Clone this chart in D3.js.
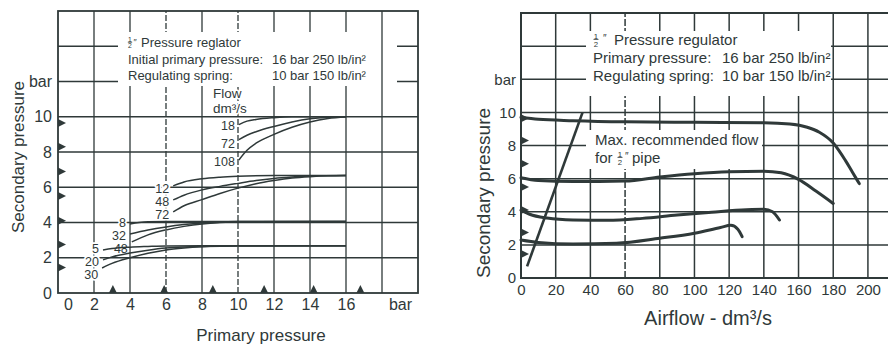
<!DOCTYPE html>
<html>
<head>
<meta charset="utf-8">
<script src="https://cdn.jsdelivr.net/npm/d3@7"></script>
<style>
  body { margin: 0; background: #fff; }
  svg text { font-family: "Liberation Sans", Arial, Helvetica, sans-serif; fill: #2f3939; }
</style>
</head>
<body>
<svg id="chart" width="888" height="345"></svg>
<script>
// ---------- Left chart: secondary pressure vs primary pressure ----------
const primaryTicks = [0, 2, 4, 6, 8, 10, 12, 14, 16];
const secondaryTicks = [0, 2, 4, 6, 8, 10];
// lb/in² reference marks (arrowheads) along both axes, in bar
const psiMarksSecondary = [1.45, 2.75, 4.1, 5.5, 6.9, 8.3, 9.65];
const psiMarksPrimary = [3.05, 5.9, 8.6, 11.45, 14.2, 16.8];

// [primary bar, secondary bar] — setting ~10 bar
const set10Flow18  = [[10.05, 9.55], [10.5, 9.75], [11, 9.85], [12, 9.95], [13, 10], [16, 10]];
const set10Flow72  = [[10.05, 8.7], [10.5, 8.95], [11, 9.15], [12, 9.45], [13, 9.7], [14, 9.88], [15, 9.97], [16, 10]];
const set10Flow108 = [[10.05, 7.55], [10.5, 8.1], [11, 8.5], [12, 9.0], [13, 9.4], [14, 9.7], [15, 9.9], [16, 10]];
// setting ~6.7 bar
const set6Flow12 = [[6.4, 6.08], [7, 6.3], [8, 6.48], [9, 6.57], [10, 6.62], [12, 6.66], [16, 6.67]];
const set6Flow48 = [[6.4, 5.28], [7, 5.55], [8, 5.85], [9, 6.05], [10, 6.22], [11, 6.38], [12, 6.5], [13, 6.58], [14, 6.64], [16, 6.67]];
const set6Flow72 = [[6.4, 4.6], [7, 4.95], [8, 5.3], [9, 5.65], [10, 5.95], [11, 6.2], [12, 6.38], [13, 6.52], [14, 6.6], [15, 6.65], [16, 6.67]];
// setting ~4 bar
const set4Flow8  = [[4, 3.92], [4.5, 4.0], [5, 4.04], [6, 4.05], [16, 4.05]];
const set4Flow32 = [[4, 3.35], [5, 3.58], [6, 3.75], [7, 3.88], [8, 3.97], [9, 4.02], [10, 4.05], [16, 4.05]];
const set4Flow48 = [[4.1, 2.9], [5, 3.3], [6, 3.58], [7, 3.78], [8, 3.92], [9, 4.0], [10, 4.04], [16, 4.05]];
// setting ~2.7 bar
const set2Flow5  = [[2.5, 2.44], [3, 2.52], [4, 2.6], [5, 2.64], [6, 2.67], [8, 2.68], [16, 2.68]];
const set2Flow20 = [[2.5, 1.88], [3, 2.05], [4, 2.27], [5, 2.43], [6, 2.55], [7, 2.61], [8, 2.64], [10, 2.67], [16, 2.68]];
const set2Flow30 = [[2.45, 1.42], [3, 1.68], [4, 2.0], [5, 2.25], [6, 2.44], [7, 2.55], [8, 2.62], [9, 2.66], [10, 2.68], [16, 2.68]];

const flowLabels10 = ["18", "72", "108"];
const flowLabels6 = ["12", "48", "72"];
const flowLabels4 = ["8", "32", "48"];
const flowLabels2 = ["5", "20", "30"];

// ---------- Right chart: secondary pressure vs airflow ----------
const airflowTicks = [0, 20, 40, 60, 80, 100, 120, 140, 160, 180, 200];
// [airflow dm³/s, secondary bar]
const regulated10 = [[0, 9.7], [10, 9.58], [30, 9.5], [60, 9.43], [100, 9.4], [140, 9.38], [155, 9.3], [165, 9.1], [172, 8.8], [180, 8.15], [187, 7.1], [191, 6.4], [195, 5.7]];
const regulated6 = [[0, 6.05], [10, 5.88], [30, 5.82], [60, 5.85], [80, 6.1], [100, 6.3], [120, 6.42], [140, 6.45], [150, 6.35], [160, 5.95], [170, 5.25], [180, 4.5]];
const regulated4 = [[0, 4.1], [5, 3.85], [15, 3.62], [30, 3.5], [50, 3.48], [70, 3.6], [90, 3.8], [110, 3.97], [130, 4.12], [140, 4.15], [145, 4.0], [149, 3.5]];
const regulated2 = [[0, 2.3], [10, 2.15], [30, 2.05], [55, 2.1], [80, 2.4], [100, 2.7], [115, 3.05], [121, 3.18], [125, 2.95], [127.5, 2.5]];
const maxFlowLine = [[3.5, 0.7], [35.5, 10]];

// ---------- drawing ----------
const INK = "#2f3939";
const svg = d3.select("#chart");
const FONT = '"Liberation Sans", Arial, Helvetica, sans-serif';

function halo(sel, w) {
  return sel.attr("stroke", "#fff").attr("stroke-width", w).attr("stroke-linejoin", "round").attr("paint-order", "stroke");
}

// stacked ½ fraction drawn at x (centre), y (baseline of the surrounding text)
function half(g, x, y, size) {
  const s = size * 0.52;
  g.append("text").attr("x", x).attr("y", y - size * 0.42).attr("font-size", s).attr("text-anchor", "middle").text("1");
  g.append("line").attr("x1", x - s * 0.32).attr("x2", x + s * 0.32)
    .attr("y1", y - size * 0.37).attr("y2", y - size * 0.37).attr("stroke", INK).attr("stroke-width", 0.8);
  g.append("text").attr("x", x).attr("y", y + size * 0.1).attr("font-size", s).attr("text-anchor", "middle").text("2");
}

/* ===== left panel ===== */
const xL = d3.scaleLinear().domain([0, 20]).range([58, 418]);
const yL = d3.scaleLinear().domain([0, 16]).range([293, 11]);
const gL = svg.append("g");

const hGridL = d3.range(2, 16, 2);
const vGridL = d3.range(2, 20, 2);
const dashedL = new Set([6, 10]);

gL.append("g").selectAll("line").data(hGridL).join("line")
  .attr("x1", xL(0)).attr("x2", xL(20)).attr("y1", d => yL(d)).attr("y2", d => yL(d))
  .attr("stroke", INK).attr("stroke-width", 1.3);
gL.append("rect").attr("x", 118).attr("y", 32).attr("width", 279).attr("height", 54).attr("fill", "#fff");
gL.append("g").selectAll("line").data(vGridL).join("line")
  .attr("x1", d => xL(d)).attr("x2", d => xL(d)).attr("y1", yL(0)).attr("y2", yL(16))
  .attr("stroke", INK).attr("stroke-width", 1.3)
  .attr("stroke-dasharray", d => dashedL.has(d) ? "6,2" : null);
gL.append("rect").attr("x", 118).attr("y", 32).attr("width", 254).attr("height", 54).attr("fill", "#fff");
gL.append("rect").attr("x", xL(0)).attr("y", yL(16)).attr("width", xL(20) - xL(0)).attr("height", yL(0) - yL(16))
  .attr("fill", "none").attr("stroke", INK).attr("stroke-width", 1.8);

// arrowhead marks
gL.append("g").selectAll("path").data(psiMarksSecondary).join("path")
  .attr("d", d => `M${xL(0)},${yL(d) - 4}L${xL(0) + 8},${yL(d)}L${xL(0)},${yL(d) + 4}Z`).attr("fill", INK);
gL.append("g").selectAll("path").data(psiMarksPrimary).join("path")
  .attr("d", d => `M${xL(d) - 4},${yL(0)}L${xL(d)},${yL(0) - 8}L${xL(d) + 4},${yL(0)}Z`).attr("fill", INK);

const lineL = d3.line().x(d => xL(d[0])).y(d => yL(d[1])).curve(d3.curveMonotoneX);
const familiesL = [
  { curves: [set10Flow18, set10Flow72, set10Flow108], labels: flowLabels10 },
  { curves: [set6Flow12, set6Flow48, set6Flow72], labels: flowLabels6 },
  { curves: [set4Flow8, set4Flow32, set4Flow48], labels: flowLabels4 },
  { curves: [set2Flow5, set2Flow20, set2Flow30], labels: flowLabels2 }
];
familiesL.forEach(f => {
  // labels are stacked around the curve starts, at least one text line apart
  const starts = f.curves.map(c => yL(c[0][1]));
  const mid = d3.mean(starts);
  const step = Math.max(13, (starts[2] - starts[0]) / 2);
  f.curves.forEach((c, i) => {
    gL.append("path").attr("d", lineL(c)).attr("fill", "none").attr("stroke", INK).attr("stroke-width", 1.5);
    halo(gL.append("text"), 3.5)
      .attr("x", xL(c[0][0]) - 4).attr("y", mid + (i - 1) * step + 2)
      .attr("dy", "0.36em").attr("text-anchor", "end").attr("font-size", 12.5).text(f.labels[i]);
  });
});
halo(gL.append("text"), 3).attr("x", 213).attr("y", 98).attr("font-size", 13.5).text("Flow");
halo(gL.append("text"), 3).attr("x", 213).attr("y", 113).attr("font-size", 13.5).text("dm³/s");

// header block
const tL = gL.append("g").attr("font-size", 13);
half(tL, 130, 47, 13);
tL.append("text").attr("x", 133.5).attr("y", 45).attr("font-size", 9).text("\u2033");
tL.append("text").attr("x", 141).attr("y", 47).text("Pressure reglator");
tL.append("text").attr("x", 128).attr("y", 64).text("Initial primary pressure:");
tL.append("text").attr("x", 128).attr("y", 80).text("Regulating spring:");
tL.append("text").attr("x", 272).attr("y", 64).text("16 bar 250 lb/in²");
tL.append("text").attr("x", 272).attr("y", 80).text("10 bar 150 lb/in²");

// axes
const axLy = gL.append("g").attr("transform", `translate(${xL(0)},0)`)
  .call(d3.axisLeft(yL).tickValues(secondaryTicks.concat([12])).tickFormat(d => d === 12 ? "bar" : d).tickSize(0).tickPadding(6));
axLy.select(".domain").remove();
axLy.selectAll("text").attr("font-size", 16).attr("font-family", FONT).attr("fill", INK);
axLy.attr("font-size", null).attr("font-family", null);

const axLx = gL.append("g").attr("transform", `translate(0,${yL(0)})`)
  .call(d3.axisBottom(xL).tickValues(primaryTicks.concat([19])).tickFormat(d => d === 19 ? "bar" : d).tickSize(0).tickPadding(5.5));
axLx.select(".domain").remove();
axLx.selectAll("text").attr("font-size", 16).attr("font-family", FONT).attr("fill", INK)
  .attr("dx", d => d === 0 ? 10 : 0);
axLx.attr("font-size", null).attr("font-family", null);

gL.append("text").attr("transform", "translate(24,157) rotate(-90)").attr("text-anchor", "middle")
  .attr("font-size", 17).text("Secondary pressure");
gL.append("text").attr("x", 261).attr("y", 341).attr("text-anchor", "middle")
  .attr("font-size", 17).text("Primary pressure");

/* ===== right panel ===== */
const xR = d3.scaleLinear().domain([0, 211]).range([521, 887]);
const yR = d3.scaleLinear().domain([0, 16]).range([278, 13]);
const gR = svg.append("g");

gR.append("g").selectAll("line").data(d3.range(2, 16, 2)).join("line")
  .attr("x1", xR(0)).attr("x2", 888).attr("y1", d => yR(d)).attr("y2", d => yR(d))
  .attr("stroke", INK).attr("stroke-width", 1.5);
gR.append("g").selectAll("line").data(airflowTicks.slice(1)).join("line")
  .attr("x1", d => xR(d)).attr("x2", d => xR(d)).attr("y1", yR(0)).attr("y2", yR(16))
  .attr("stroke", INK).attr("stroke-width", 1.5)
  .attr("stroke-dasharray", d => d === 60 ? "7,2" : null);
gR.append("rect").attr("x", 586).attr("y", 31).attr("width", 245).attr("height", 65).attr("fill", "#fff");
gR.append("rect").attr("x", 586).attr("y", 130).attr("width", 176).attr("height", 39).attr("fill", "#fff");
gR.append("path")
  .attr("d", `M888,${yR(16)}H${xR(0)}V${yR(0)}H888`)
  .attr("fill", "none").attr("stroke", INK).attr("stroke-width", 2);

gR.append("g").selectAll("path").data(psiMarksSecondary).join("path")
  .attr("d", d => `M${xR(0)},${yR(d) - 4}L${xR(0) + 8},${yR(d)}L${xR(0)},${yR(d) + 4}Z`).attr("fill", INK);

const lineR = d3.line().x(d => xR(d[0])).y(d => yR(d[1])).curve(d3.curveMonotoneX);
[regulated10, regulated6, regulated4, regulated2].forEach(c => {
  gR.append("path").attr("d", lineR(c)).attr("fill", "none").attr("stroke", INK)
    .attr("stroke-width", 3).attr("stroke-linecap", "round");
});
gR.append("path").attr("d", d3.line().x(d => xR(d[0])).y(d => yR(d[1]))(maxFlowLine))
  .attr("fill", "none").attr("stroke", INK).attr("stroke-width", 2.6);

const tR = gR.append("g").attr("font-size", 15);
half(tR, 596, 45, 15);
tR.append("text").attr("x", 603).attr("y", 42).attr("font-size", 10).text("\u2033");
tR.append("text").attr("x", 614).attr("y", 45).text("Pressure regulator");
tR.append("text").attr("x", 593).attr("y", 63).text("Primary pressure:");
tR.append("text").attr("x", 593).attr("y", 81).text("Regulating spring:");
tR.append("text").attr("x", 722).attr("y", 63).text("16 bar 250 lb/in²");
tR.append("text").attr("x", 722).attr("y", 81).text("10 bar 150 lb/in²");
tR.append("text").attr("x", 595).attr("y", 145).text("Max. recommended flow");
tR.append("text").attr("x", 595).attr("y", 163).text("for");
half(tR, 620, 163, 15);
tR.append("text").attr("x", 625).attr("y", 160).attr("font-size", 10).text("\u2033");
tR.append("text").attr("x", 632).attr("y", 163).text("pipe");

const axRy = gR.append("g").attr("transform", `translate(${xR(0)},0)`)
  .call(d3.axisLeft(yR).tickValues(secondaryTicks.concat([12])).tickFormat(d => d === 12 ? "bar" : d).tickSize(0).tickPadding(5));
axRy.select(".domain").remove();
axRy.selectAll("text").attr("font-size", 15).attr("font-family", FONT).attr("fill", INK);
axRy.attr("font-size", null).attr("font-family", null);

const axRx = gR.append("g").attr("transform", `translate(0,${yR(0)})`)
  .call(d3.axisBottom(xR).tickValues(airflowTicks).tickSize(0).tickPadding(6.3));
axRx.select(".domain").remove();
axRx.selectAll("text").attr("font-size", 15).attr("font-family", FONT).attr("fill", INK);
axRx.attr("font-size", null).attr("font-family", null);

gR.append("text").attr("transform", "translate(490,193) rotate(-90)").attr("text-anchor", "middle")
  .attr("font-size", 19).text("Secondary pressure");
gR.append("text").attr("x", 708).attr("y", 325).attr("text-anchor", "middle")
  .attr("font-size", 20).text("Airflow - dm³/s");
</script>
</body>
</html>
